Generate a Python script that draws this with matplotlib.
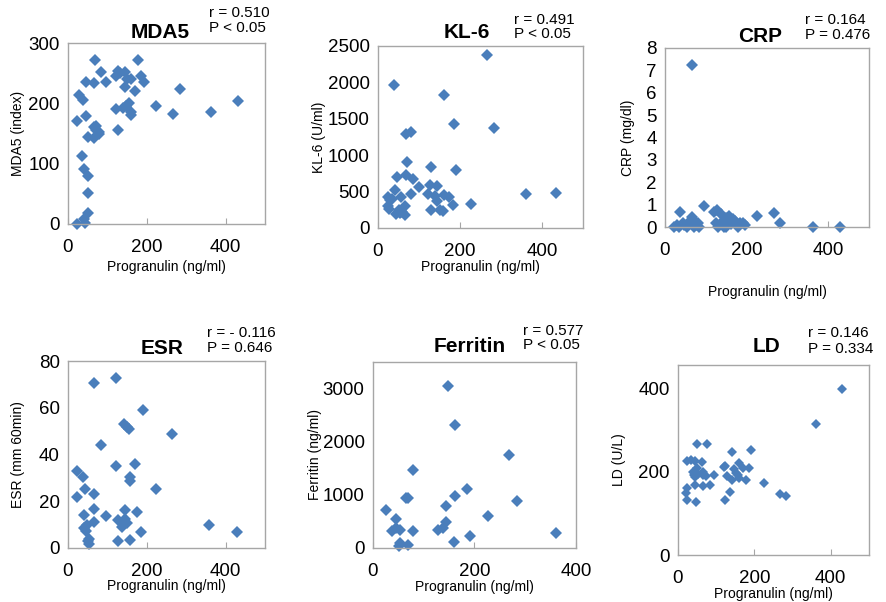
import matplotlib
matplotlib.use("Agg")
import matplotlib.pyplot as plt

plt.rcParams["font.family"] = ["Liberation Sans", "DejaVu Sans"]

W, H = 887, 602
BLUE = "#4a7ebb"
GRAY = "#a6a6a6"

# MDA5
mda5_x = [23, 27, 23, 38, 36, 41, 46, 46, 51, 50, 52, 50, 41, 44, 68, 65, 65, 67,
          72, 72, 78, 79, 85, 97, 122, 127, 131, 145, 123, 127, 140, 145, 146, 151,
          154, 159, 161, 159, 171, 178, 186, 193, 224, 266, 284, 363, 432]
mda5_y = [0, 214, 170, 205, 113, 91, 236, 179, 144, 79, 51, 19, 8, 2, 271, 234, 142, 160,
          163, 156, 153, 150, 252, 236, 245, 253, 251, 252, 191, 156, 192, 227, 195, 240,
          200, 241, 185, 181, 221, 272, 246, 235, 196, 183, 224, 185, 204]

# KL-6
kl6_x = [39, 267, 161, 186, 283, 69, 80, 70, 130, 191, 46, 68, 86, 99, 42, 80, 56, 25,
         29, 34, 25, 26, 44, 51, 54, 59, 67, 65, 126, 144, 122, 140, 144, 160, 173, 182,
         130, 152, 158, 226, 362, 433]
kl6_y = [1965, 2377, 1828, 1431, 1371, 1293, 1325, 905, 841, 800, 694, 722, 667, 562,
         521, 471, 425, 425, 388, 398, 297, 265, 192, 251, 206, 219, 306, 183, 594, 571,
         471, 434, 375, 457, 425, 320, 242, 251, 229, 334, 466, 480]

# CRP
crp_x = [66, 37, 96, 120, 128, 65, 267, 226, 283, 363, 430, 22, 29, 34, 43, 47, 53, 57,
         71, 76, 80, 84, 71, 137, 141, 144, 125, 129, 150, 155, 158, 162, 167, 172, 178,
         184, 191, 195, 150]
crp_y = [7.25, 0.69, 0.92, 0.68, 0.77, 0.45, 0.62, 0.47, 0.2, 0.02, 0.02, 0.0, 0.1, 0.0,
         0.2, 0.1, 0.0, 0.2, 0.27, 0.1, 0.2, 0.0, 0.0, 0.57, 0.27, 0.0, 0.2, 0.0, 0.42,
         0.3, 0.5, 0.12, 0.35, 0.27, 0.0, 0.2, 0.2, 0.1, 0.0]

# ESR
esr_x = [65, 121, 190, 143, 149, 154, 264, 84, 122, 170, 24, 37, 158, 158, 44, 224, 67,
         24, 65, 145, 174, 40, 97, 67, 127, 145, 149, 138, 48, 41, 46, 185, 359, 428, 54,
         51, 53, 128, 158]
esr_y = [70.8, 72.9, 59.2, 52.9, 51.8, 50.8, 48.8, 44.1, 35.1, 35.9, 33.1, 30.2, 30.4,
         28.7, 25.1, 25.1, 23.1, 22.0, 16.8, 16.1, 15.3, 14.1, 13.8, 11.1, 12.1, 12.6,
         10.8, 8.8, 10.0, 8.7, 7.3, 6.8, 9.7, 6.7, 4.0, 3.0, 1.9, 3.1, 3.3]

# Ferritin
fer_x = [148, 161, 267, 79, 186, 66, 69, 161, 284, 26, 144, 226, 46, 144, 37, 46, 54,
         79, 128, 138, 191, 159, 361, 54, 51, 68]
fer_y = [3044, 2308, 1748, 1465, 1101, 943, 943, 975, 887, 723, 792, 604, 541, 497, 314,
         371, 333, 314, 333, 371, 220, 113, 283, 94, 44, 57]

# LD
ld_x = [429, 360, 51, 75, 142, 190, 24, 35, 44, 63, 159, 170, 120, 124, 147, 185, 39, 50,
        66, 42, 53, 44, 66, 74, 94, 129, 151, 157, 160, 177, 142, 83, 66, 44, 225, 24,
        22, 137, 266, 282, 24, 48, 124]
ld_y = [398, 314, 267, 267, 248, 253, 226, 229, 225, 224, 222, 210, 212, 214, 207, 208,
        200, 208, 200, 192, 194, 187, 192, 190, 192, 190, 196, 192, 184, 180, 179, 168,
        166, 168, 173, 162, 150, 152, 147, 141, 133, 128, 133]

panels = [
    dict(x=mda5_x, y=mda5_y, title="MDA5", ylabel="MDA5 (index)", ylim=300,
         yticks=[0, 100, 200, 300], xlim=500, r="r = 0.510", p="P < 0.05",
         box=(68, 265, 43, 224), title_xy=(160, 32), stat_xy=(209, 13, 28),
         ylab_d=50, xlab_d=43, ms=5.8),
    dict(x=kl6_x, y=kl6_y, title="KL-6", ylabel="KL-6 (U/ml)", ylim=2500,
         yticks=[0, 500, 1000, 1500, 2000, 2500], xlim=500, r="r = 0.491", p="P < 0.05",
         box=(378, 583, 46, 228), title_xy=(467, 33), stat_xy=(514, 20, 34),
         ylab_d=59, xlab_d=39, ms=5.8),
    dict(x=crp_x, y=crp_y, title="CRP", ylabel="CRP (mg/dl)", ylim=8,
         yticks=list(range(9)), xlim=500, r="r = 0.164", p="P = 0.476",
         box=(665, 869, 48, 227), title_xy=(760, 36), stat_xy=(805, 20, 35),
         ylab_d=37, xlab_d=65, ms=5.8),
    dict(x=esr_x, y=esr_y, title="ESR", ylabel="ESR (mm 60min)", ylim=80,
         yticks=[0, 20, 40, 60, 80], xlim=500, r="r = - 0.116", p="P = 0.646",
         box=(68, 265, 361, 548), title_xy=(162, 348), stat_xy=(207, 333, 348),
         ylab_d=50, xlab_d=38, ms=5.8),
    dict(x=fer_x, y=fer_y, title="Ferritin", ylabel="Ferritin (ng/ml)", ylim=3500,
         yticks=[0, 1000, 2000, 3000], xlim=400, r="r = 0.577", p="P < 0.05",
         box=(373, 576, 362, 548), title_xy=(470, 347), stat_xy=(523, 331, 345),
         ylab_d=58, xlab_d=39, ms=5.8),
    dict(x=ld_x, y=ld_y, title="LD", ylabel="LD (U/L)", ylim=456,
         yticks=[0, 200, 400], xlim=500, r="r = 0.146", p="P = 0.334",
         box=(678, 869, 365, 555), title_xy=(767, 347), stat_xy=(808, 333, 349),
         ylab_d=59, xlab_d=39, ms=4.6),
]

fig = plt.figure(figsize=(W / 100, H / 100), dpi=100)

for pn in panels:
    l, r, t, b = pn["box"]
    ax = fig.add_axes([l / W, 1 - b / H, (r - l) / W, (b - t) / H])
    ax.plot(pn["x"], pn["y"], "D", color=BLUE, ms=pn["ms"], mew=0, ls="none", clip_on=False)
    ax.set_xlim(0, pn["xlim"])
    ax.set_ylim(0, pn["ylim"])
    ax.set_xticks([0, 200, 400])
    ax.set_yticks(pn["yticks"])
    ax.tick_params(axis="x", direction="in", length=4, color=GRAY, labelsize=13.5, pad=11)
    ax.tick_params(axis="y", length=0, labelsize=13.5, pad=6)
    for s in ax.spines.values():
        s.set_color(GRAY)
        s.set_linewidth(1.0)
    ax.set_ylabel(pn["ylabel"], fontsize=10, va="center")
    ax.yaxis.set_label_coords(-pn["ylab_d"] / (r - l), 0.5)
    ax.set_xlabel("Progranulin (ng/ml)", fontsize=10, va="center")
    ax.xaxis.set_label_coords(0.5, -pn["xlab_d"] / (b - t))
    tx, ty = pn["title_xy"]
    fig.text(tx / W, 1 - ty / H, pn["title"], fontsize=15, fontweight="bold",
             ha="center", va="center")
    sx, sy1, sy2 = pn["stat_xy"]
    fig.text(sx / W, 1 - sy1 / H, pn["r"], fontsize=11, ha="left", va="center")
    fig.text(sx / W, 1 - sy2 / H, pn["p"], fontsize=11, ha="left", va="center")

fig.savefig("out.png", dpi=100)
